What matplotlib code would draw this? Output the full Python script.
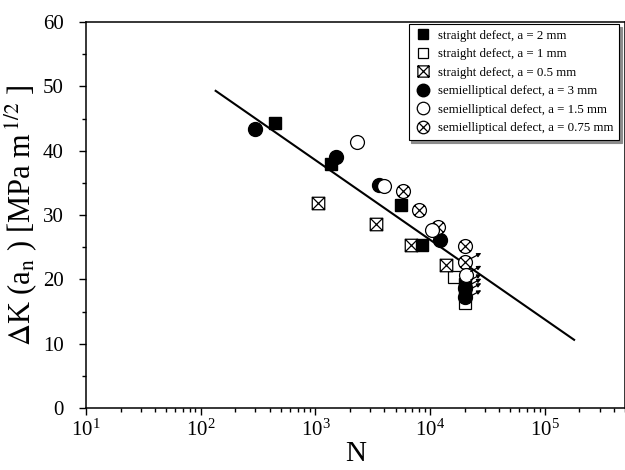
import matplotlib
matplotlib.use('Agg')
import matplotlib.pyplot as plt
from matplotlib.path import Path
from matplotlib.ticker import MultipleLocator, LogLocator

plt.rcParams['font.family'] = ['Liberation Serif', 'DejaVu Serif']
plt.rcParams['mathtext.fontset'] = 'stix'

# straight defects
sq2_n = [440, 1370, 5560, 8470, 20000, 20000]
sq2_k = [44.3, 37.9, 31.6, 25.3, 19.3, 18.4]
sq1_n = [16200, 20000]
sq1_k = [20.4, 16.3]
sq05_n = [1046, 3375, 6750, 13870]
sq05_k = [31.8, 28.6, 25.4, 22.2]

# semielliptical defects
ci3_n = [295, 1513, 3600, 12130, 20000, 20000]
ci3_k = [43.3, 39.0, 34.7, 26.1, 18.6, 17.3]
ci15_n = [2300, 3970, 10470, 20400]
ci15_k = [41.4, 34.5, 27.7, 20.7]
ci075_n = [5820, 8020, 11800, 20000, 20000]
ci075_k = [33.8, 30.8, 28.2, 25.2, 22.7]

# run-outs (arrows)
runout_n = [20000, 20000, 20000, 20000, 20000, 20000]
runout_k = [22.7, 20.7, 19.4, 18.7, 18.0, 16.9]

# fitted line
fit_n = [135, 180000]
fit_k = [49.3, 10.6]

# crossed markers
M, L, C = Path.MOVETO, Path.LINETO, Path.CLOSEPOLY
crossed_sq = Path([(-1, -1), (1, -1), (1, 1), (-1, 1), (-1, -1),
                   (-1, -1), (1, 1), (-1, 1), (1, -1)],
                  [M, L, L, L, C, M, L, M, L])
diag = Path([(-0.707, -0.707), (0.707, 0.707), (-0.707, 0.707), (0.707, -0.707)],
            [M, L, M, L])
crossed_ci = Path.make_compound_path(Path.unit_circle(), diag)

fig = plt.figure(figsize=(6.25, 4.7), dpi=100)
ax = fig.add_axes([86/625, 1 - 408/470, 1 - 86/625, (408 - 22)/470])

ax.plot(fit_n, fit_k, color='black', lw=1.5, zorder=2)

ax.plot(sq1_n, sq1_k, ls='none', marker='s', ms=8.5, mfc='white', mec='black', mew=0.9,
        label='straight defect, a = 1 mm', zorder=3)
ax.plot(sq05_n, sq05_k, ls='none', marker=crossed_sq, ms=9, mfc='white', mec='black', mew=0.9,
        label='straight defect, a = 0.5 mm', zorder=3)
ax.plot(sq2_n, sq2_k, ls='none', marker='s', ms=8.5, mfc='black', mec='black',
        label='straight defect, a = 2 mm', zorder=4)
ax.plot(ci3_n, ci3_k, ls='none', marker='o', ms=10, mfc='black', mec='black',
        label='semielliptical defect, a = 3 mm', zorder=4)
ax.plot(ci075_n, ci075_k, ls='none', marker=crossed_ci, ms=10, mfc='white', mec='black', mew=0.9,
        label='semielliptical defect, a = 0.75 mm', zorder=5)
ax.plot(ci15_n, ci15_k, ls='none', marker='o', ms=10, mfc='white', mec='black', mew=0.9,
        label='semielliptical defect, a = 1.5 mm', zorder=5)

for n, k in zip(runout_n, runout_k):
    ax.annotate('', xy=(n, k), xytext=(12, 6.5), textcoords='offset points',
                arrowprops=dict(arrowstyle='<|-', color='black', lw=0.9,
                                mutation_scale=6, shrinkA=0, shrinkB=5), zorder=6)

ax.set_xscale('log')
ax.set_xlim(10, 5e5)
ax.set_ylim(0, 60)
ax.yaxis.set_major_locator(MultipleLocator(10))
ax.yaxis.set_minor_locator(MultipleLocator(5))
ax.xaxis.set_major_locator(LogLocator(base=10, numticks=10))
ax.xaxis.set_minor_locator(LogLocator(base=10, subs=range(2, 10), numticks=20))
ax.tick_params(which='both', direction='out', top=False, right=False, width=1, labelsize=15)
ax.tick_params(which='major', length=5)
ax.tick_params(which='minor', length=3)
ax.tick_params(axis='y', which='major', pad=11)
for s in ax.spines.values():
    s.set_linewidth(1.1)

ax.set_xlabel('N', fontsize=21, labelpad=0)
ax.set_ylabel(r'$\Delta$K (a$_{\mathrm{n}}$ ) [MPa m$^{\,1/2}$ ]', fontsize=22, labelpad=2)

handles, labels = ax.get_legend_handles_labels()
order = [2, 0, 1, 3, 5, 4]
leg = ax.legend([handles[i] for i in order], [labels[i] for i in order],
                loc='upper right', bbox_to_anchor=(619/625, 1 - 24/470),
                bbox_transform=fig.transFigure, fontsize=9.3, frameon=True,
                fancybox=False, edgecolor='black', borderaxespad=0,
                handletextpad=0.5, labelspacing=0.5, borderpad=0.45,
                handlelength=1.3, markerscale=0.9,
                shadow={'ox': 2, 'oy': -2, 'color': '0.55', 'alpha': 1})
leg.get_frame().set_linewidth(0.8)

fig.savefig('out.png', dpi=100)
